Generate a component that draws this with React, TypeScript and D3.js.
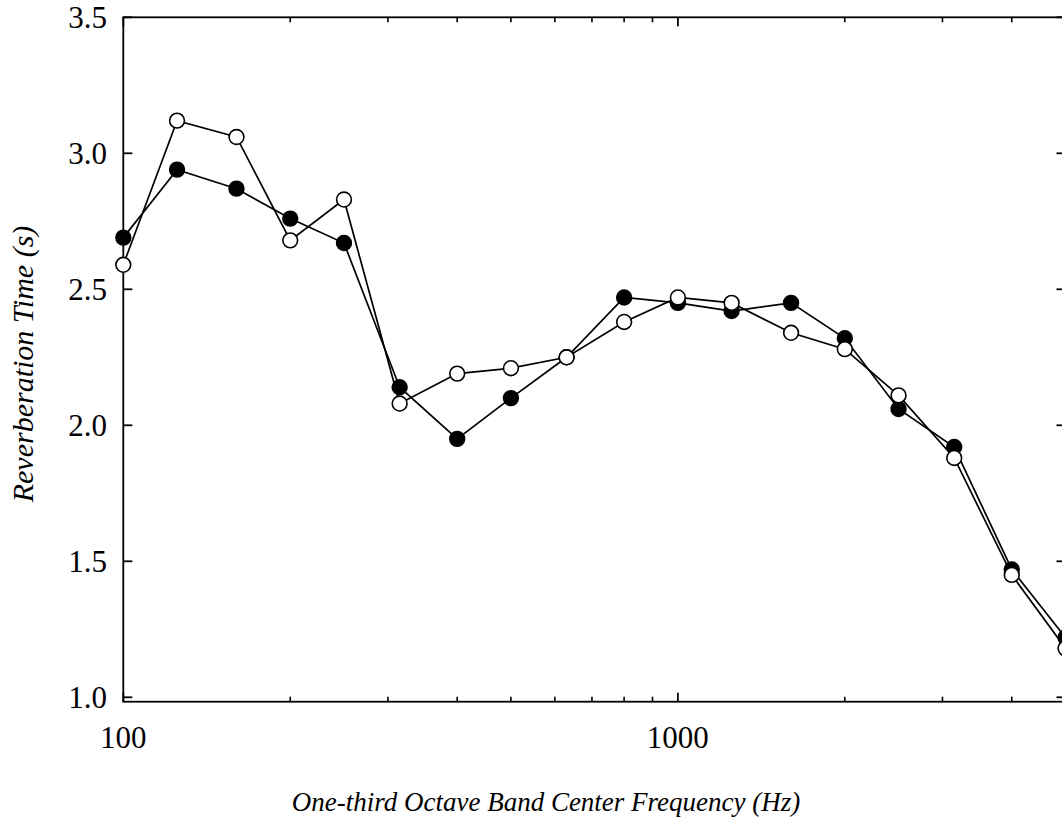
import React, { useEffect, useRef } from "react";
import * as d3 from "d3";

const frequencies = [100, 125, 160, 200, 250, 315, 400, 500, 630, 800, 1000, 1250, 1600, 2000, 2500, 3150, 4000, 5000];
const filledSeries = [2.69, 2.94, 2.87, 2.76, 2.67, 2.14, 1.95, 2.10, 2.25, 2.47, 2.45, 2.42, 2.45, 2.32, 2.06, 1.92, 1.47, 1.22];
const openSeries = [2.59, 3.12, 3.06, 2.68, 2.83, 2.08, 2.19, 2.21, 2.25, 2.38, 2.47, 2.45, 2.34, 2.28, 2.11, 1.88, 1.45, 1.18];
const yTicks = [1.0, 1.5, 2.0, 2.5, 3.0, 3.5];
const xMajorTicks = [100, 1000];
const xMinorTicks = [200, 300, 400, 500, 600, 700, 800, 900, 2000, 3000, 4000];
const xTitle = "One-third Octave Band Center Frequency (Hz)";
const yTitle = "Reverberation Time (s)";

export default function App() {
  const ref = useRef<SVGSVGElement | null>(null);

  useEffect(() => {
    const svg = d3.select(ref.current);
    svg.selectAll("*").remove();

    const left = 123.3;
    const right = 1065.5;
    const top = 17.3;
    const bottomFrame = 701.7;
    const x = d3.scaleLog().domain([100, 5000]).range([left, right]);
    const y = d3.scaleLinear().domain([1, 3.5]).range([697.3, top]);
    const font = "'Liberation Serif', 'Times New Roman', serif";

    const g = svg.append("g");

    // frame
    g.append("rect")
      .attr("x", left).attr("y", top)
      .attr("width", right - left).attr("height", bottomFrame - top)
      .attr("fill", "none").attr("stroke", "#000").attr("stroke-width", 1.8);

    // y ticks left and right
    yTicks.forEach((t) => {
      g.append("line").attr("x1", left).attr("x2", left + 9).attr("y1", y(t)).attr("y2", y(t))
        .attr("stroke", "#000").attr("stroke-width", 1.8);
      g.append("line").attr("x1", right - 9).attr("x2", right).attr("y1", y(t)).attr("y2", y(t))
        .attr("stroke", "#000").attr("stroke-width", 1.8);
      g.append("text").attr("x", 107).attr("y", y(t)).attr("dy", "0.34em")
        .attr("text-anchor", "end").attr("font-family", font).attr("font-size", 31)
        .text(d3.format(".1f")(t));
    });

    // x ticks
    xMinorTicks.forEach((t) => {
      g.append("line").attr("x1", x(t)).attr("x2", x(t)).attr("y1", bottomFrame).attr("y2", bottomFrame - 5)
        .attr("stroke", "#000").attr("stroke-width", 1.6);
      g.append("line").attr("x1", x(t)).attr("x2", x(t)).attr("y1", top).attr("y2", top + 5)
        .attr("stroke", "#000").attr("stroke-width", 1.6);
    });
    xMajorTicks.forEach((t) => {
      g.append("line").attr("x1", x(t)).attr("x2", x(t)).attr("y1", bottomFrame).attr("y2", bottomFrame - 9)
        .attr("stroke", "#000").attr("stroke-width", 1.8);
      g.append("line").attr("x1", x(t)).attr("x2", x(t)).attr("y1", top).attr("y2", top + 9)
        .attr("stroke", "#000").attr("stroke-width", 1.8);
      g.append("text").attr("x", x(t)).attr("y", 748)
        .attr("text-anchor", "middle").attr("font-family", font).attr("font-size", 31)
        .text(String(t));
    });

    // titles
    g.append("text").attr("x", 546).attr("y", 811)
      .attr("text-anchor", "middle").attr("font-family", font).attr("font-style", "italic")
      .attr("font-size", 27).text(xTitle);
    g.append("text").attr("transform", "translate(33,364) rotate(-90)")
      .attr("text-anchor", "middle").attr("font-family", font).attr("font-style", "italic")
      .attr("font-size", 30).text(yTitle);

    const line = d3.line<number>()
      .x((_, i) => x(frequencies[i]))
      .y((d) => y(d));

    const drawSeries = (vals: number[], fill: string) => {
      g.append("path").attr("d", line(vals) || "").attr("fill", "none")
        .attr("stroke", "#000").attr("stroke-width", 1.7);
      g.selectAll(null).data(vals).enter().append("circle")
        .attr("cx", (_, i) => x(frequencies[i]))
        .attr("cy", (d) => y(d))
        .attr("r", 7.4)
        .attr("fill", fill).attr("stroke", "#000").attr("stroke-width", 1.6);
    };
    drawSeries(filledSeries, "#000");
    drawSeries(openSeries, "#fff");
  }, []);

  return (
    <svg
      ref={ref}
      width={1062}
      height={819}
      style={{ position: "fixed", left: 0, top: 0, display: "block", background: "#fff" }}
    />
  );
}
